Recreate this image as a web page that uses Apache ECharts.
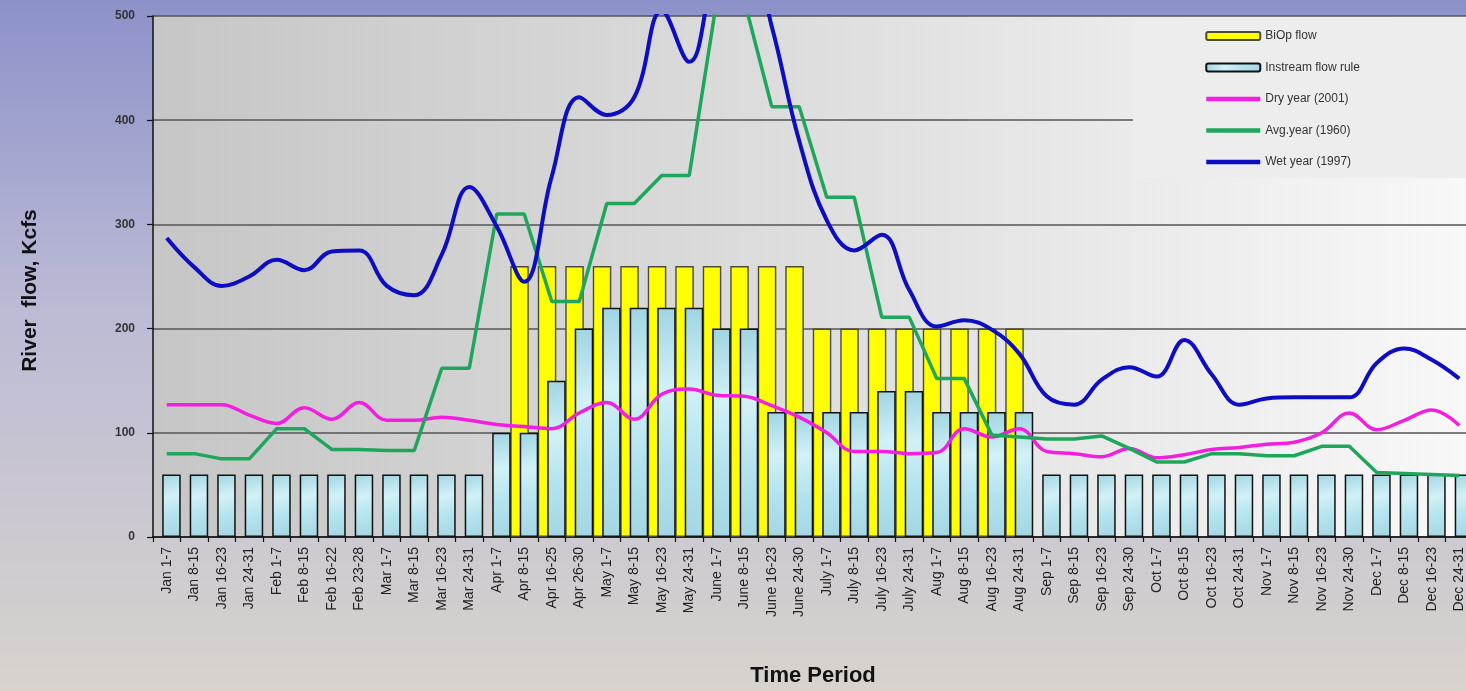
<!DOCTYPE html>
<html>
<head>
<meta charset="utf-8">
<script src="https://cdn.jsdelivr.net/npm/echarts@6/dist/echarts.min.js"></script>
<style>
html,body{margin:0;padding:0;width:1466px;height:691px;overflow:hidden;}
#c{width:1466px;height:691px;}
</style>
</head>
<body>
<div id="c"></div>
<script>
var categories = ['Jan 1-7','Jan 8-15','Jan 16-23','Jan 24-31','Feb 1-7','Feb 8-15','Feb 16-22','Feb 23-28','Mar 1-7','Mar 8-15','Mar 16-23','Mar 24-31','Apr 1-7','Apr 8-15','Apr 16-25','Apr 26-30','May 1-7','May 8-15','May 16-23','May 24-31','June 1-7','June 8-15','June 16-23','June 24-30','July 1-7','July 8-15','July 16-23','July 24-31','Aug 1-7','Aug 8-15','Aug 16-23','Aug 24-31','Sep 1-7','Sep 8-15','Sep 16-23','Sep 24-30','Oct 1-7','Oct 8-15','Oct 16-23','Oct 24-31','Nov 1-7','Nov 8-15','Nov 16-23','Nov 24-30','Dec 1-7','Dec 8-15','Dec 16-23','Dec 24-31'];

var biopFlow = [null,null,null,null,null,null,null,null,null,null,null,null,null,260,260,260,260,260,260,260,260,260,260,260,200,200,200,200,200,200,200,200,null,null,null,null,null,null,null,null,null,null,null,null,null,null,null,null];

var instreamFlow = [60,60,60,60,60,60,60,60,60,60,60,60,100,100,150,200,220,220,220,220,200,200,120,120,120,120,140,140,120,120,120,120,60,60,60,60,60,60,60,60,60,60,60,60,60,60,60,60];

var dryYear = [127,127,127,117,109,124,113,129,112,112,115,112,108,106,104,119,129,113,137,142,136,135,126,115,100,82,82,80,81,104,96,104,82,80,77,85,76,79,84,86,89,91,100,119,103,112,122,107];

var avgYear = [80,80,75,75,104,104,84,84,83,83,162,162,310,310,226,226,320,320,347,347,515,515,413,413,326,326,211,211,152,152,98,96,94,94,97,85,72,72,80,80,78,78,87,87,62,61,60,59];

var wetYear = [287,259,241,250,266,256,274,275,241,232,271,336,298,245,346,422,405,422,505,456,545,575,490,380,304,275,290,237,202,208,199,176,135,127,151,163,154,189,156,127,133,134,134,134,167,181,170,152];

var yTicks = [0,100,200,300,400,500];
var legendNames = ['BiOp flow','Instream flow rule','Dry year (2001)','Avg.year (1960)','Wet year (1997)'];

var FONT = 'Liberation Sans, Arial, sans-serif';
var chart = echarts.init(document.getElementById('c'));

var legendData = legendNames.map(function (n, i) {
  if (i < 2) return {name: n};
  return {name: n, itemStyle: {color: 'rgba(0,0,0,0)', borderWidth: 0}, lineStyle: {width: 4.5}};
});

var option = {
  animation: false,
  backgroundColor: {type:'linear', x:0, y:0, x2:0, y2:1, colorStops:[
    {offset:0, color:'#8c91c9'},
    {offset:0.45, color:'#bcbbd5'},
    {offset:1, color:'#d8d3cd'}
  ]},
  graphic: [{
    type:'rect', left:1133, top:17, z:5,
    shape:{width:333, height:161},
    style:{fill:'#ededed'}
  }],
  legend: {
    orient:'vertical', left:1204, top:29, z:10, padding:0,
    itemWidth:54, itemHeight:8, itemGap:17.5,
    textStyle:{fontFamily:FONT, fontSize:12, color:'#333', lineHeight:14},
    data:legendData
  },
  grid: {
    left:153, top:16, width:1320, height:521, show:true, borderWidth:0,
    containLabel:false, outerBoundsMode:'none',
    backgroundColor:{type:'linear', x:0, y:0, x2:1, y2:0, colorStops:[
      {offset:0, color:'#c6c6c6'},
      {offset:0.5, color:'#dedede'},
      {offset:1, color:'#f8f8f8'}
    ]}
  },
  xAxis: {
    type:'category', data:categories, boundaryGap:true,
    name:'Time Period', nameLocation:'middle', nameGap:128,
    nameTextStyle:{fontFamily:FONT, fontSize:22, fontWeight:'bold', color:'#111'},
    axisLine:{lineStyle:{color:'#111', width:1.5}},
    axisTick:{show:true, length:5, lineStyle:{color:'#111', width:1.2}},
    axisLabel:{interval:0, rotate:90, margin:10, fontFamily:FONT, fontSize:14, color:'#222'}
  },
  yAxis: {
    type:'value', min:yTicks[0], max:yTicks[yTicks.length-1], interval:100,
    name:'River  flow, Kcfs', nameLocation:'middle', nameGap:112,
    nameTextStyle:{fontFamily:FONT, fontSize:21, fontWeight:'bold', color:'#111', padding:[0,28,0,0]},
    axisLine:{show:true, lineStyle:{color:'#111', width:1.5}},
    axisTick:{show:true, length:6, lineStyle:{color:'#111', width:1.2}},
    axisLabel:{margin:18, fontFamily:FONT, fontSize:12, fontWeight:'bold', color:'#333'},
    splitLine:{show:true, lineStyle:{color:'#555', width:1.6}}
  },
  series: [
    {
      name:'BiOp flow', type:'bar', data:biopFlow,
      barWidth:18.5, barGap:'-49%',
      itemStyle:{color:'#ffff00', borderColor:'#4a4a3a', borderWidth:1.4}
    },
    {
      name:'Instream flow rule', type:'bar', data:instreamFlow,
      barWidth:18.5, barGap:'-49%',
      itemStyle:{
        color:{type:'linear', x:0, y:0, x2:1, y2:1, colorStops:[
          {offset:0, color:'#9fd4e2'},
          {offset:0.35, color:'#d2f1f7'},
          {offset:0.65, color:'#b4e3ee'},
          {offset:1, color:'#a3d6e3'}
        ]},
        borderColor:'#111', borderWidth:1.5
      }
    },
    {
      name:'Dry year (2001)', type:'line', data:dryYear, smooth:0.4,
      symbol:'none', lineStyle:{color:'#f21ee0', width:3.5}, itemStyle:{color:'#f21ee0'}, z:3
    },
    {
      name:'Avg.year (1960)', type:'line', data:avgYear, smooth:false,
      symbol:'none', lineStyle:{color:'#1ea65a', width:3.5}, itemStyle:{color:'#1ea65a'}, z:3
    },
    {
      name:'Wet year (1997)', type:'line', data:wetYear, smooth:0.4,
      symbol:'none', lineStyle:{color:'#0d0dc4', width:4}, itemStyle:{color:'#0d0dc4'}, z:3
    }
  ]
};
chart.setOption(option);
</script>
</body>
</html>
